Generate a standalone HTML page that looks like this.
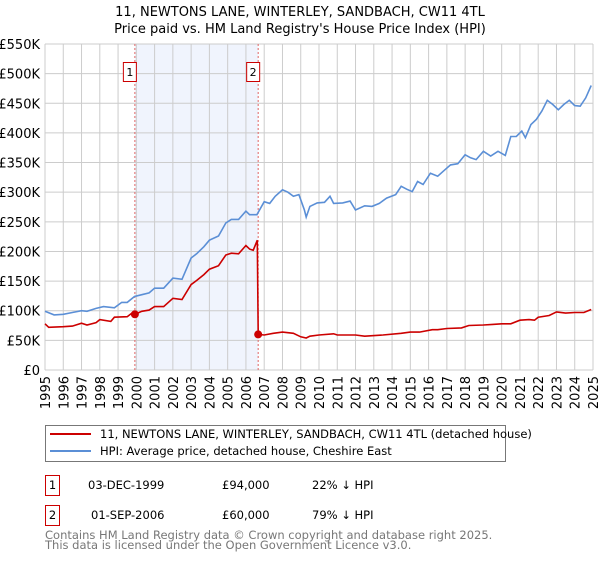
<!DOCTYPE html>
<html><head><meta charset="utf-8"><style>
body{margin:0;background:#fff;font-family:"Liberation Sans","DejaVu Sans",sans-serif;}
svg text{font-family:"DejaVu Sans","Liberation Sans",sans-serif;}
</style></head><body>
<svg id="c" width="600" height="560" xmlns="http://www.w3.org/2000/svg">
<text x="300" y="16" text-anchor="middle" font-size="13">11, NEWTONS LANE, WINTERLEY, SANDBACH, CW11 4TL</text>
<text x="300" y="33" text-anchor="middle" font-size="13">Price paid vs. HM Land Registry's House Price Index (HPI)</text>
<g id="grid"></g><g id="marks"></g>
<rect x="45.5" y="425.5" width="460" height="36" fill="#fff" stroke="#777"/>
<line x1="50" y1="434" x2="91" y2="434" stroke="#cc0000" stroke-width="2"/>
<text x="100" y="438" font-size="11.5">11, NEWTONS LANE, WINTERLEY, SANDBACH, CW11 4TL (detached house)</text>
<line x1="50" y1="451" x2="91" y2="451" stroke="#5b8fd6" stroke-width="2"/>
<text x="100" y="455" font-size="11.5">HPI: Average price, detached house, Cheshire East</text>
<rect x="45.5" y="475.5" width="14" height="20" fill="#fff" stroke="#cc0000"/>
<text x="52.5" y="489" text-anchor="middle" font-size="11.5">1</text>
<text x="88" y="489" font-size="11.5">03-DEC-1999</text>
<text x="222" y="489" font-size="11.5">£94,000</text>
<text x="312" y="489" font-size="11.5">22% ↓ HPI</text>
<rect x="45.5" y="505.5" width="14" height="20" fill="#fff" stroke="#cc0000"/>
<text x="52.5" y="519" text-anchor="middle" font-size="11.5">2</text>
<text x="91" y="519" font-size="11.5">01-SEP-2006</text>
<text x="222" y="519" font-size="11.5">£60,000</text>
<text x="312" y="519" font-size="11.5">79% ↓ HPI</text>
<text x="45" y="539" font-size="11.5" fill="#777">Contains HM Land Registry data © Crown copyright and database right 2025.</text>
<text x="45" y="549" font-size="11.5" fill="#777">This data is licensed under the Open Government Licence v3.0.</text>
</svg>
<script>
const yTicks=[0,50,100,150,200,250,300,350,400,450,500,550];
const yTickLabels=["£0","£50K","£100K","£150K","£200K","£250K","£300K","£350K","£400K","£450K","£500K","£550K"];
const years=[1995,1996,1997,1998,1999,2000,2001,2002,2003,2004,2005,2006,2007,2008,2009,2010,2011,2012,2013,2014,2015,2016,2017,2018,2019,2020,2021,2022,2023,2024,2025];
const hpiT=[1995.0,1995.5,1996.0,1996.5,1997.0,1997.3,1997.8,1998.2,1998.8,1999.2,1999.5,1999.9,2000.3,2000.7,2001.0,2001.5,2002.0,2002.5,2003.0,2003.3,2003.7,2004.0,2004.5,2004.9,2005.2,2005.6,2006.0,2006.2,2006.6,2007.0,2007.3,2007.6,2008.0,2008.3,2008.6,2008.9,2009.2,2009.3,2009.5,2009.9,2010.3,2010.6,2010.8,2011.3,2011.7,2012.0,2012.5,2012.9,2013.3,2013.7,2014.2,2014.5,2014.8,2015.1,2015.4,2015.7,2016.1,2016.5,2016.9,2017.2,2017.6,2018.0,2018.3,2018.6,2019.0,2019.4,2019.8,2020.2,2020.5,2020.8,2021.1,2021.3,2021.6,2021.9,2022.2,2022.5,2022.8,2023.1,2023.4,2023.7,2024.0,2024.3,2024.6,2024.9];
const hpiV=[99,93,94,97,100,99,104,107,105,114,114,124,127,130,138,138,155,153,189,196,208,219,226,248,254,254,268,262,262,284,281,293,304,300,293,296,270,258,276,282,283,293,281,282,285,270,277,276,281,290,296,310,305,301,318,313,332,327,338,346,348,363,358,355,369,361,369,362,394,394,403,392,414,423,437,455,448,439,448,455,446,445,459,480];
const ppT=[1995.0,1995.2,1996.0,1996.5,1997.0,1997.3,1997.8,1998.0,1998.6,1998.8,1999.5,1999.8,1999.92,2000.3,2000.7,2001.0,2001.5,2002.0,2002.5,2003.0,2003.3,2003.7,2004.0,2004.5,2004.9,2005.2,2005.6,2006.0,2006.2,2006.4,2006.62,2006.67,2007.0,2007.5,2008.0,2008.6,2009.0,2009.3,2009.5,2010.0,2010.8,2011.0,2012.0,2012.5,2013.5,2014.5,2015.0,2015.5,2016.2,2016.5,2017.0,2017.8,2018.2,2019.0,2019.5,2020.0,2020.5,2021.0,2021.5,2021.8,2022.0,2022.6,2023.0,2023.5,2024.0,2024.5,2024.9];
const ppV=[78,72,73,74,79,76,80,85,82,89,90,97,94,99,101,107,107,121,119,144,151,161,170,176,194,197,196,210,204,202,219,60,59,62,64,62,56,54,57,59,61,59,59,57,59,62,64,64,68,68,70,71,75,76,77,78,78,84,85,84,89,92,98,96,97,97,102];
const saleT=[1999.92,2006.67];
const saleV=[94,60];
const saleLabels=["1","2"];
const X0=45,X1=593,Y0=370,Y1=44;
const xs=t=>X0+(t-1995)/30*(X1-X0);
const ys=v=>Y0-v/550*(Y0-Y1);
const NS="http://www.w3.org/2000/svg";
const grid=document.getElementById('grid'),marks=document.getElementById('marks');
function mk(p,tag,a){const e=document.createElementNS(NS,tag);for(const k in a)e.setAttribute(k,a[k]);p.appendChild(e);return e;}
let band=mk(grid,'rect',{x:xs(saleT[0]),y:Y1,width:xs(saleT[1])-xs(saleT[0]),height:Y0-Y1,fill:'#f0f4fd'});


yTicks.forEach((v,i)=>{
 let l=mk(grid,'line',{x1:X0,x2:X1,y1:ys(v),y2:ys(v),stroke:'#ccc'});
 
 
 let t=mk(grid,'text',{x:40,y:ys(v)+5,'text-anchor':'end','font-size':13});
 t.textContent=yTickLabels[i];
 
 
});
years.forEach(y=>{
 let l=mk(grid,'line',{x1:xs(y),x2:xs(y),y1:Y1,y2:Y0,stroke:'#ccc'});
 
 
 let t=mk(grid,'text',{x:0,y:0,'text-anchor':'end','font-size':13,transform:`translate(${xs(y)+5},${Y0+6}) rotate(-90)`});
 t.textContent=y;
 
 
});
saleT.forEach((t,i)=>{
 let l=mk(marks,'line',{x1:xs(t),x2:xs(t),y1:Y1,y2:Y0,stroke:'#e06666','stroke-dasharray':'2,2'});
 
 
});
const path=(T,V)=>T.map((t,i)=>(i?'L':'M')+xs(t).toFixed(1)+','+ys(V[i]).toFixed(1)).join('');
let h=mk(marks,'path',{d:path(hpiT,hpiV),fill:'none',stroke:'#5b8fd6','stroke-width':1.6});


let p=mk(marks,'path',{d:path(ppT,ppV),fill:'none',stroke:'#cc0000','stroke-width':1.6});


saleT.forEach((t,i)=>{
 let c=mk(marks,'circle',{cx:xs(t),cy:ys(saleV[i]),r:4,fill:'#cc0000'});
 
 
 let b=mk(marks,'rect',{x:xs(t)-11.5,y:62.5,width:13,height:19,fill:'#fff',stroke:'#cc0000'});
 
 
 let tx=mk(marks,'text',{x:xs(t)-5,y:76,'text-anchor':'middle','font-size':11});
 tx.textContent=saleLabels[i];
 
 
});
</script>
</body></html>
